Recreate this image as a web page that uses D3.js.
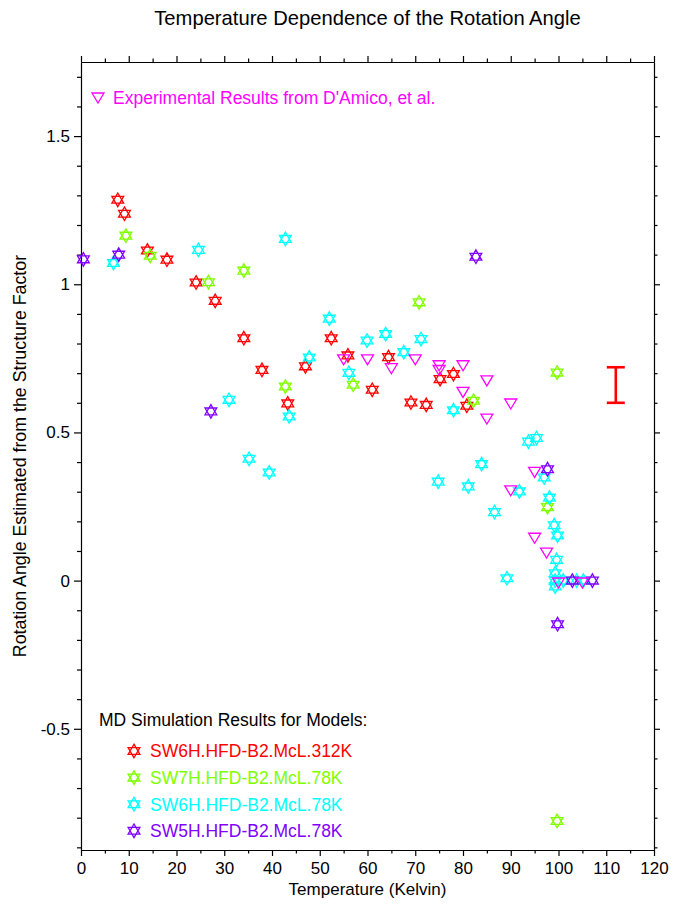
<!DOCTYPE html>
<html>
<head>
<meta charset="utf-8">
<script src="https://cdn.jsdelivr.net/npm/d3@7"></script>
<style>
  html, body { margin: 0; padding: 0; background: #fff; }
  svg { display: block; font-family: Arial, "Liberation Sans", sans-serif; }
</style>
</head>
<body>
<svg id="chart" width="682" height="905"></svg>
<script>
// MD simulation series: temperature (K) and rotation angle
const redT = [7.7, 9.1, 13.9, 18.0, 24.1, 28.1, 34.1, 37.9, 43.3, 47.0, 52.4, 55.9, 61.0, 64.4, 69.1, 72.3, 75.2, 78.0, 80.8];
const redV = [1.285, 1.238, 1.114, 1.083, 1.006, 0.944, 0.818, 0.711, 0.598, 0.723, 0.818, 0.760, 0.644, 0.754, 0.601, 0.593, 0.680, 0.697, 0.590];

const greenT = [9.4, 14.5, 26.7, 34.1, 42.8, 57.0, 70.8, 82.2, 99.7, 97.7, 99.7];
const greenV = [1.164, 1.096, 1.007, 1.046, 0.655, 0.661, 0.939, 0.607, 0.702, 0.248, -0.811];

const cyanT = [6.8, 24.6, 42.8, 31.0, 35.2, 39.4, 43.6, 47.8, 52.0, 56.1, 59.9, 63.8, 67.6, 71.2, 78.0, 74.8, 81.1, 83.9, 86.6, 89.2, 91.8, 93.7, 95.4, 97.0, 98.1, 99.1, 99.8, 99.6, 99.3, 99.3, 99.3, 101.0, 103.8, 105.2];
const cyanV = [1.072, 1.116, 1.153, 0.610, 0.411, 0.365, 0.554, 0.753, 0.884, 0.701, 0.810, 0.832, 0.771, 0.815, 0.575, 0.334, 0.318, 0.393, 0.231, 0.008, 0.301, 0.469, 0.481, 0.348, 0.280, 0.187, 0.152, 0.070, 0.025, 0.0, -0.020, 0.0, 0.0, 0.0];

const purpleT = [0.5, 7.9, 27.2, 82.7, 97.7, 102.9, 107.1, 99.8];
const purpleV = [1.084, 1.100, 0.571, 1.093, 0.376, 0.0, 0.0, -0.147];

// Experimental results (D'Amico, et al.)
const expT = [55, 60, 65, 70, 75, 75, 80, 80, 85, 90, 85, 95, 90, 95, 97.5, 100, 105];
const expV = [0.745, 0.745, 0.715, 0.745, 0.725, 0.709, 0.725, 0.635, 0.674, 0.596, 0.545, 0.365, 0.303, 0.143, 0.093, -0.008, -0.008];

// Representative error bar
const errT = [112];
const errLow = [0.60];
const errHigh = [0.72];

// Series names and colours
const seriesNames = ["SW6H.HFD-B2.McL.312K", "SW7H.HFD-B2.McL.78K", "SW6H.HFD-B2.McL.78K", "SW5H.HFD-B2.McL.78K"];
const seriesColors = ["#ff0000", "#80ff00", "#00ffff", "#8000ff"];
const expColor = "#ff00ff";

// Axis ticks
const xMajorTicks = [0, 10, 20, 30, 40, 50, 60, 70, 80, 90, 100, 110, 120];
const xTickLabels = ["0", "10", "20", "30", "40", "50", "60", "70", "80", "90", "100", "110", "120"];
const xMinorTicks = [5, 15, 25, 35, 45, 55, 65, 75, 85, 95, 105, 115];
const yMajorTicks = [-0.5, 0, 0.5, 1, 1.5];
const yTickLabels = ["-0.5", "0", "0.5", "1", "1.5"];
const yMinorTicks = [-0.9, -0.8, -0.7, -0.6, -0.4, -0.3, -0.2, -0.1, 0.1, 0.2, 0.3, 0.4, 0.6, 0.7, 0.8, 0.9, 1.1, 1.2, 1.3, 1.4, 1.6, 1.7];

const W = 682, H = 905;
const margin = { left: 81, right: 28, top: 62, bottom: 55 };
const svg = d3.select("#chart");

const x = d3.scaleLinear().domain([0, 120]).range([margin.left, W - margin.right]);
const y = d3.scaleLinear().domain([-0.909, 1.75]).range([H - margin.bottom, margin.top]);

// Hexagram (two overlapping triangles)
function hexagram(r) {
  const pt = a => [r * Math.cos(a * Math.PI / 180), r * Math.sin(a * Math.PI / 180)];
  const tri = angles => "M" + angles.map(a => pt(a).map(v => v.toFixed(2)).join(",")).join("L") + "Z";
  return tri([-90, 30, 150]) + tri([90, 210, 330]);
}
// Downward-pointing open triangle
function downTriangle(w, h) {
  return `M${-w / 2},${-h / 2}L${w / 2},${-h / 2}L0,${h / 2}Z`;
}
const starPath = hexagram(6.8);
const triPath = downTriangle(12, 10);

// Axes frame and ticks
const axisG = svg.append("g").attr("class", "axes");
function styleAxis(g) {
  g.select(".domain").attr("stroke", "#000").attr("stroke-width", 1.1);
  g.selectAll(".tick line").attr("stroke", "#000").attr("stroke-width", 1.2);
  g.selectAll("text").attr("fill", "#000").attr("font-size", 17);
}
const fmtX = d => xTickLabels[xMajorTicks.indexOf(d)];
const fmtY = d => yTickLabels[yMajorTicks.indexOf(d)];

// bottom
axisG.append("g").attr("transform", `translate(0,${y.range()[0]})`)
  .call(d3.axisBottom(x).tickValues(xMinorTicks).tickSize(3.5).tickSizeOuter(0).tickFormat(""))
  .call(styleAxis);
axisG.append("g").attr("transform", `translate(0,${y.range()[0]})`)
  .call(d3.axisBottom(x).tickValues(xMajorTicks).tickSize(6).tickSizeOuter(0).tickPadding(6).tickFormat(fmtX))
  .call(styleAxis);
// top
axisG.append("g").attr("transform", `translate(0,${y.range()[1]})`)
  .call(d3.axisTop(x).tickValues(xMinorTicks).tickSize(3.5).tickSizeOuter(0).tickFormat(""))
  .call(styleAxis);
axisG.append("g").attr("transform", `translate(0,${y.range()[1]})`)
  .call(d3.axisTop(x).tickValues(xMajorTicks).tickSize(6).tickSizeOuter(0).tickFormat(""))
  .call(styleAxis);
// left
axisG.append("g").attr("transform", `translate(${x.range()[0]},0)`)
  .call(d3.axisLeft(y).tickValues(yMinorTicks).tickSize(4).tickSizeOuter(0).tickFormat(""))
  .call(styleAxis);
axisG.append("g").attr("transform", `translate(${x.range()[0]},0)`)
  .call(d3.axisLeft(y).tickValues(yMajorTicks).tickSize(7).tickSizeOuter(0).tickPadding(4).tickFormat(fmtY))
  .call(styleAxis);
// right
axisG.append("g").attr("transform", `translate(${x.range()[1]},0)`)
  .call(d3.axisRight(y).tickValues(yMinorTicks).tickSize(3.5).tickSizeOuter(0).tickFormat(""))
  .call(styleAxis);
axisG.append("g").attr("transform", `translate(${x.range()[1]},0)`)
  .call(d3.axisRight(y).tickValues(yMajorTicks).tickSize(6).tickSizeOuter(0).tickFormat(""))
  .call(styleAxis);

// Titles
svg.append("text").attr("x", (x.range()[0] + x.range()[1]) / 2).attr("y", 25)
  .attr("text-anchor", "middle").attr("font-size", 20.2).attr("fill", "#000")
  .text("Temperature Dependence of the Rotation Angle");
svg.append("text").attr("x", (x.range()[0] + x.range()[1]) / 2).attr("y", 895)
  .attr("text-anchor", "middle").attr("font-size", 17).attr("fill", "#000")
  .text("Temperature (Kelvin)");
svg.append("text")
  .attr("transform", `translate(26,${(y.range()[0] + y.range()[1]) / 2}) rotate(-90)`)
  .attr("text-anchor", "middle").attr("font-size", 17.8).attr("fill", "#000")
  .text("Rotation Angle Estimated from the Structure Factor");

// Markers
const plot = svg.append("g").attr("class", "plot");
const series = [
  { T: redT, V: redV, c: seriesColors[0] },
  { T: greenT, V: greenV, c: seriesColors[1] },
  { T: cyanT, V: cyanV, c: seriesColors[2] },
  { T: purpleT, V: purpleV, c: seriesColors[3] }
];
series.forEach(s => {
  plot.append("g").selectAll("path")
    .data(s.T.map((t, i) => [t, s.V[i]]))
    .join("path")
    .attr("d", starPath)
    .attr("transform", d => `translate(${x(d[0])},${y(d[1])})`)
    .attr("fill", "none").attr("stroke", s.c).attr("stroke-width", 1.3);
});
plot.append("g").selectAll("path")
  .data(expT.map((t, i) => [t, expV[i]]))
  .join("path")
  .attr("d", triPath)
  .attr("transform", d => `translate(${x(d[0])},${y(d[1])})`)
  .attr("fill", "none").attr("stroke", expColor).attr("stroke-width", 1.3);

// Error bar
const eb = plot.append("g").attr("stroke", "#ff0000").attr("stroke-width", 2.6);
errT.forEach((t, i) => {
  const cx = x(t);
  eb.append("line").attr("x1", cx).attr("x2", cx).attr("y1", y(errLow[i])).attr("y2", y(errHigh[i]));
  eb.append("line").attr("x1", cx - 9).attr("x2", cx + 9).attr("y1", y(errLow[i])).attr("y2", y(errLow[i]));
  eb.append("line").attr("x1", cx - 9).attr("x2", cx + 9).attr("y1", y(errHigh[i])).attr("y2", y(errHigh[i]));
});

// Experimental legend
const expLeg = svg.append("g").attr("transform", "translate(98,98)");
expLeg.append("path").attr("d", triPath).attr("fill", "none").attr("stroke", expColor).attr("stroke-width", 1.3);
expLeg.append("text").attr("x", 15).attr("y", 6).attr("font-size", 17.5).attr("fill", expColor)
  .text("Experimental Results from D'Amico, et al.");

// MD legend
const mdLeg = svg.append("g");
mdLeg.append("text").attr("x", 99).attr("y", 726).attr("font-size", 17.5).attr("fill", "#000")
  .text("MD Simulation Results for Models:");
seriesNames.forEach((name, i) => {
  const cy = 751 + i * 26.6;
  mdLeg.append("path").attr("d", starPath).attr("transform", `translate(134,${cy})`)
    .attr("fill", "none").attr("stroke", seriesColors[i]).attr("stroke-width", 1.3);
  mdLeg.append("text").attr("x", 150).attr("y", cy + 6.3).attr("font-size", 17.5).attr("fill", seriesColors[i])
    .text(name);
});
</script>
</body>
</html>
